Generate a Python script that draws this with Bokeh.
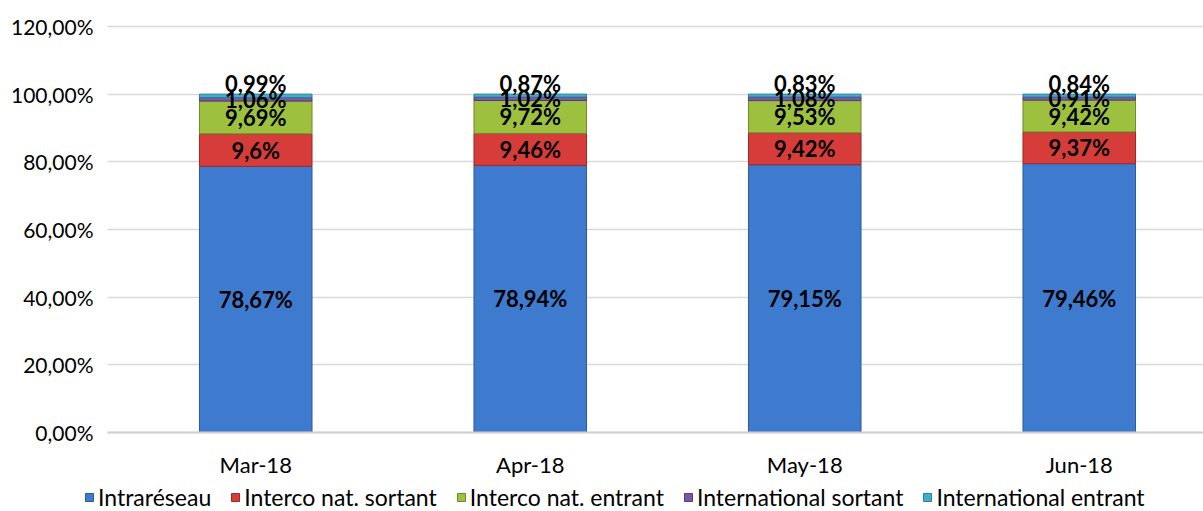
from bokeh.plotting import figure
from bokeh.models import ColumnDataSource, Range1d, FixedTicker, Legend, LegendItem
from bokeh.core.properties import value
from bokeh.embed import file_html
from bokeh.resources import INLINE

# ---- data ----
months = ["Mar-18", "Apr-18", "May-18", "Jun-18"]
series_names = ["Intraréseau", "Interco nat. sortant", "Interco nat. entrant",
                "International sortant", "International entrant"]
intrareseau = [78.67, 78.94, 79.15, 79.46]
interco_sortant = [9.6, 9.46, 9.42, 9.37]
interco_entrant = [9.69, 9.72, 9.53, 9.42]
intl_sortant = [1.06, 1.02, 1.08, 0.91]
intl_entrant = [0.99, 0.87, 0.83, 0.84]
y_ticks = [0, 20, 40, 60, 80, 100, 120]
y_tick_labels = ["0,00%", "20,00%", "40,00%", "60,00%", "80,00%", "100,00%", "120,00%"]

series_values = [intrareseau, interco_sortant, interco_entrant, intl_sortant, intl_entrant]

# ---- styles / layout (pixels) ----
fills = ["#3E7ACD", "#D63D3A", "#9EC03F", "#7B58A6", "#3FAFCB"]
edges = ["#2D5A99", "#9C2A27", "#6F8A2A", "#563C7A", "#2C8099"]
label_offsets = [0, 0, 0, 0, 12]
FONT = "Lato"
W, H = 1203, 511
PLOT_LEFT, PLOT_TOP, PLOT_BOTTOM = 118, 26, 432   # pixel edges of the category / value area
CAT_W = 274.5                                      # pixels per category
GRID_LEFT = 107
x_px = lambda px: -0.5 + (px - PLOT_LEFT) / CAT_W
y_scale = (PLOT_BOTTOM - PLOT_TOP) / 120.0
y_px = lambda py: (PLOT_BOTTOM - py) / y_scale

x = list(range(len(months)))
keys = ["s%d" % i for i in range(len(series_names))]
data = {"x": x}
for k, vals in zip(keys, series_values):
    data[k] = vals
source = ColumnDataSource(data)

p = figure(width=W, height=H, output_backend="svg", toolbar_location=None,
           x_range=Range1d(x_px(0), x_px(W)), y_range=Range1d(y_px(H), y_px(0)),
           min_border_left=0, min_border_right=0, min_border_top=0,
           min_border_bottom=0)
p.outline_line_color = None

renderers = p.vbar_stack(keys, x="x", width=0.41, source=source,
                         fill_color=fills, line_color=edges, line_width=1)

# data labels
for i, (vals, off) in enumerate(zip(series_values, label_offsets)):
    bottoms = [sum(series_values[j][m] for j in range(i)) for m in range(len(months))]
    ys = [b + v / 2 for b, v in zip(bottoms, vals)]
    texts = [("%g" % v).replace(".", ",") + "%" for v in vals]
    p.text(x=x, y=ys, text=texts, text_align="center", text_baseline="middle",
           text_font=value(FONT), text_font_style="bold", text_font_size="22px",
           text_color="#000000", y_offset=-off)

# axes
p.yaxis.fixed_location = x_px(PLOT_LEFT)
p.yaxis.ticker = FixedTicker(ticks=y_ticks)
p.yaxis.major_label_overrides = {t: l for t, l in zip(y_ticks, y_tick_labels)}
p.yaxis.axis_line_color = None
p.yaxis.major_tick_line_color = None
p.yaxis.minor_tick_line_color = None
p.yaxis.major_label_standoff = 19
p.yaxis.major_label_text_font = FONT
p.yaxis.major_label_text_font_size = "21px"
p.yaxis.major_label_text_color = "#000000"

p.xaxis.fixed_location = 0
p.xaxis.bounds = (x_px(GRID_LEFT), x_px(W))
p.xaxis.ticker = FixedTicker(ticks=x)
p.xaxis.major_label_overrides = {i: m for i, m in zip(x, months)}
p.xaxis.axis_line_color = "#D0D0D0"
p.xaxis.axis_line_width = 2
p.xaxis.major_tick_line_color = None
p.xaxis.minor_tick_line_color = None
p.xaxis.major_label_standoff = 12
p.xaxis.major_label_text_font = FONT
p.xaxis.major_label_text_font_size = "22px"
p.xaxis.major_label_text_color = "#000000"

p.xgrid.grid_line_color = None
p.ygrid.ticker = FixedTicker(ticks=y_ticks)
p.ygrid.grid_line_color = "#D9D9D9"
p.ygrid.grid_line_width = 1.5
try:
    p.ygrid.cross_bounds = (x_px(GRID_LEFT), x_px(W))
except Exception:
    pass

legend = Legend(items=[LegendItem(label=n, renderers=[r]) for n, r in zip(series_names, renderers)],
                location=(84, 0), orientation="horizontal",
                label_text_font=FONT, label_text_font_size="23px",
                label_text_color="#000000", glyph_width=10, glyph_height=10,
                label_standoff=4, spacing=19, padding=0, margin=0,
                border_line_color=None, background_fill_alpha=0)
p.add_layout(legend)

open("out.html", "w").write(file_html(p, INLINE))
